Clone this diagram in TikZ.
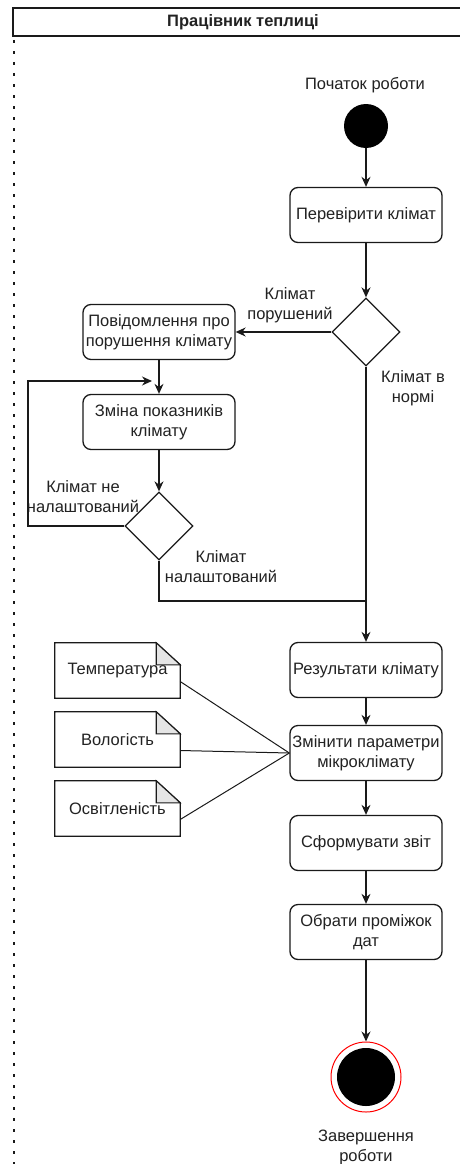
\documentclass[tikz,border=0pt]{standalone}
\usepackage{fontspec}
\setmainfont{Liberation Sans}
\usetikzlibrary{shapes.geometric,arrows.meta}
\newcommand\myfs{\fontsize{16.5}{20}\selectfont}
\definecolor{txt}{HTML}{222222}
\definecolor{ln}{HTML}{1A1A1A}
\begin{document}
\begin{tikzpicture}[x=1pt,y=-1pt,
  every node/.style={font=\myfs, text=txt},
  stepbox/.style={draw=ln, line width=1.3pt, rounded corners=8pt, minimum width=152pt, minimum height=55pt, align=center, inner sep=2pt},
  dia/.style={diamond, draw=ln, line width=1.3pt, minimum width=68pt, minimum height=68pt, inner sep=0pt},
  notebox/.style={minimum width=125pt, minimum height=55pt, inner sep=0pt, align=center},
  lbl/.style={align=center, inner sep=0pt},
  arr/.style={draw=ln, line width=1.3pt, -{Stealth[length=10pt,width=9pt]}},
  con/.style={draw=ln, line width=1.3pt}]
\useasboundingbox (0,0) rectangle (459,1164);
\fill[white] (0,0) rectangle (459,1164);
% header
\draw[con] (13,8) rectangle (470,36);
\node[font=\myfs\bfseries] (hdr) at (243,22) {Працівник теплиці};
\draw[ln, line width=2.6pt, dash pattern=on 2.6pt off 8.4pt] (14,40) -- (14,1164);
% start
\node[lbl] (startlbl) at (365,85) {Початок роботи};
\node[circle, fill=black, minimum size=44pt, inner sep=0pt] (start) at (366,126) {};
\node[stepbox] (check) at (366,215) {Перевірити клімат};
\node[dia] (d1) at (366,332) {};
\node[stepbox] (msg) at (159,332) {Повідомлення про\\порушення клімату};
\node[stepbox] (chg) at (159,422) {Зміна показників\\клімату};
\node[dia] (d2) at (159,526) {};
\node[stepbox] (res) at (366,670) {Результати клімату};
\node[stepbox] (mod) at (366,753) {Змінити параметри\\мікроклімату};
\node[stepbox] (rep) at (366,843) {Сформувати звіт};
\node[stepbox] (sel) at (366,932) {Обрати проміжок\\дат};
\node[circle, draw=red, line width=1pt, fill=white, minimum size=70pt, inner sep=0pt] (end) at (366,1077) {};
\fill[black] (end.center) circle (29pt);
\node[lbl] (endlbl) at (366,1147) {Завершення\\роботи};
% labels
\node[lbl] (l1) at (290,305) {Клімат\\порушений};
\node[lbl] (l2) at (413,388) {Клімат в\\нормі};
\node[lbl] (l3) at (83,497) {Клімат не\\налаштований};
\node[lbl] (l4) at (221,567) {Клімат\\налаштований};
% notes
\node[notebox] (n1) at (117.5,670.5) {Температура};
\node[notebox] (n2) at (117.5,739.5) {Вологість};
\node[notebox] (n3) at (117.5,808.5) {Освітленість};
\foreach \n in {n1,n2,n3}{
  \draw[con] (\n.south west) -- (\n.north west) -- ([xshift=-24pt]\n.north east) -- ([yshift=-22pt]\n.north east) -- (\n.south east) -- cycle;
  \filldraw[draw=ln, line width=1.1pt, fill=black!10] ([xshift=-24pt]\n.north east) -- ([xshift=-24pt,yshift=-22pt]\n.north east) -- ([yshift=-22pt]\n.north east) -- cycle;
}
% coordinates
\coordinate (loopend) at (152,381);
\coordinate (merge) at (366,601);
% connectors
\draw[arr] (start) -- (check);
\draw[arr] (check) -- (d1);
\draw[arr] (d1.west) -- (msg.east);
\draw[arr] (msg) -- (chg);
\draw[arr] (chg) -- (d2);
\draw[arr] (d2.west) -- (28,526) |- (loopend);
\draw[con] (d2.south) |- (merge);
\draw[arr] (d1.south) -- (res.north);
\draw[arr] (res) -- (mod);
\draw[arr] (mod) -- (rep);
\draw[arr] (rep) -- (sel);
\draw[arr] (sel) -- (end);
\draw[con, line width=1pt] ([yshift=-11pt]n1.east) -- (mod.west);
\draw[con, line width=1pt] ([yshift=-11pt]n2.east) -- (mod.west);
\draw[con, line width=1pt] ([yshift=-11pt]n3.east) -- (mod.west);
\end{tikzpicture}
\end{document}
